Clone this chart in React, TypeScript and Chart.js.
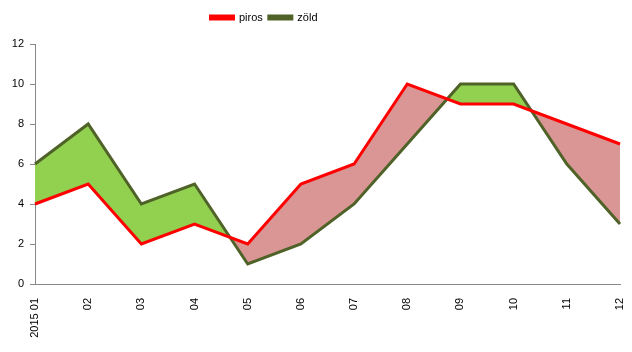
import React, { useEffect, useRef } from "react";
import { Chart, registerables } from "chart.js";

Chart.register(...registerables);

const categories = ["2015 01", "02", "03", "04", "05", "06", "07", "08", "09", "10", "11", "12"];
const pirosValues = [4, 5, 2, 3, 2, 5, 6, 10, 9, 9, 8, 7];
const zoldValues = [6, 8, 4, 5, 1, 2, 4, 7, 10, 10, 6, 3];
const seriesNames = ["piros", "zöld"];

const legendSpacer = {
  id: "legendSpacer",
  afterInit(chart: any) {
    const legend = chart.legend;
    if (!legend) return;
    const orig = legend.fit.bind(legend);
    legend.fit = function () {
      orig();
      this.height += 11;
    };
  },
  afterLayout(chart: any) {
    const legend = chart.legend;
    if (!legend) return;
    legend.left -= 46;
    legend.right -= 46;
  },
};

export default function App() {
  const ref = useRef<HTMLCanvasElement>(null);
  useEffect(() => {
    if (!ref.current) return;
    const font = { family: "'Liberation Sans', Arial, sans-serif", size: 11 };
    const chart = new Chart(ref.current, {
      type: "line",
      data: {
        labels: categories,
        datasets: [
          {
            label: seriesNames[0],
            data: pirosValues,
            borderColor: "#FF0000",
            backgroundColor: "#FF0000",
            borderWidth: 3,
            pointRadius: 0,
            tension: 0,
            fill: false,
          },
          {
            label: seriesNames[1],
            data: zoldValues,
            borderColor: "#4F6228",
            backgroundColor: "#4F6228",
            borderWidth: 3,
            pointRadius: 0,
            tension: 0,
            fill: { target: 0, above: "#92D050", below: "#DA9694" },
          },
        ],
      },
      plugins: [legendSpacer],
      options: {
        responsive: false,
        animation: false,
        layout: { padding: { left: 0, right: 12, top: 6, bottom: 8 } },
        plugins: {
          filler: { drawTime: "beforeDatasetsDraw" } as any,
          tooltip: { enabled: false },
          legend: {
            position: "top",
            align: "center",
            labels: {
              boxWidth: 23,
              boxHeight: 3,
              padding: 6,
              color: "#000",
              font,
            },
          },
        },
        scales: {
          x: {
            offset: false,
            grid: { display: false },
            border: { display: true, color: "#888" },
            ticks: {
              minRotation: 90,
              maxRotation: 90,
              autoSkip: false,
              color: "#000",
              font,
              padding: 6,
            },
            afterFit: (s: any) => {
              s.height = 60;
              s.paddingRight = 0;
              s.paddingLeft = 0;
            },
          },
          y: {
            min: 0,
            max: 12,
            grid: {
              display: true,
              drawOnChartArea: false,
              drawTicks: true,
              tickLength: 5,
              color: "#888",
            },
            border: { display: true, color: "#888" },
            ticks: { stepSize: 2, color: "#000", font, padding: 6 },
            afterFit: (s: any) => {
              s.width = 35;
            },
          },
        },
      },
    });
    return () => chart.destroy();
  }, []);
  return (
    <div style={{ position: "fixed", left: 0, top: 0, width: 632, height: 352, background: "#fff" }}>
      <canvas ref={ref} width={632} height={352} />
    </div>
  );
}
